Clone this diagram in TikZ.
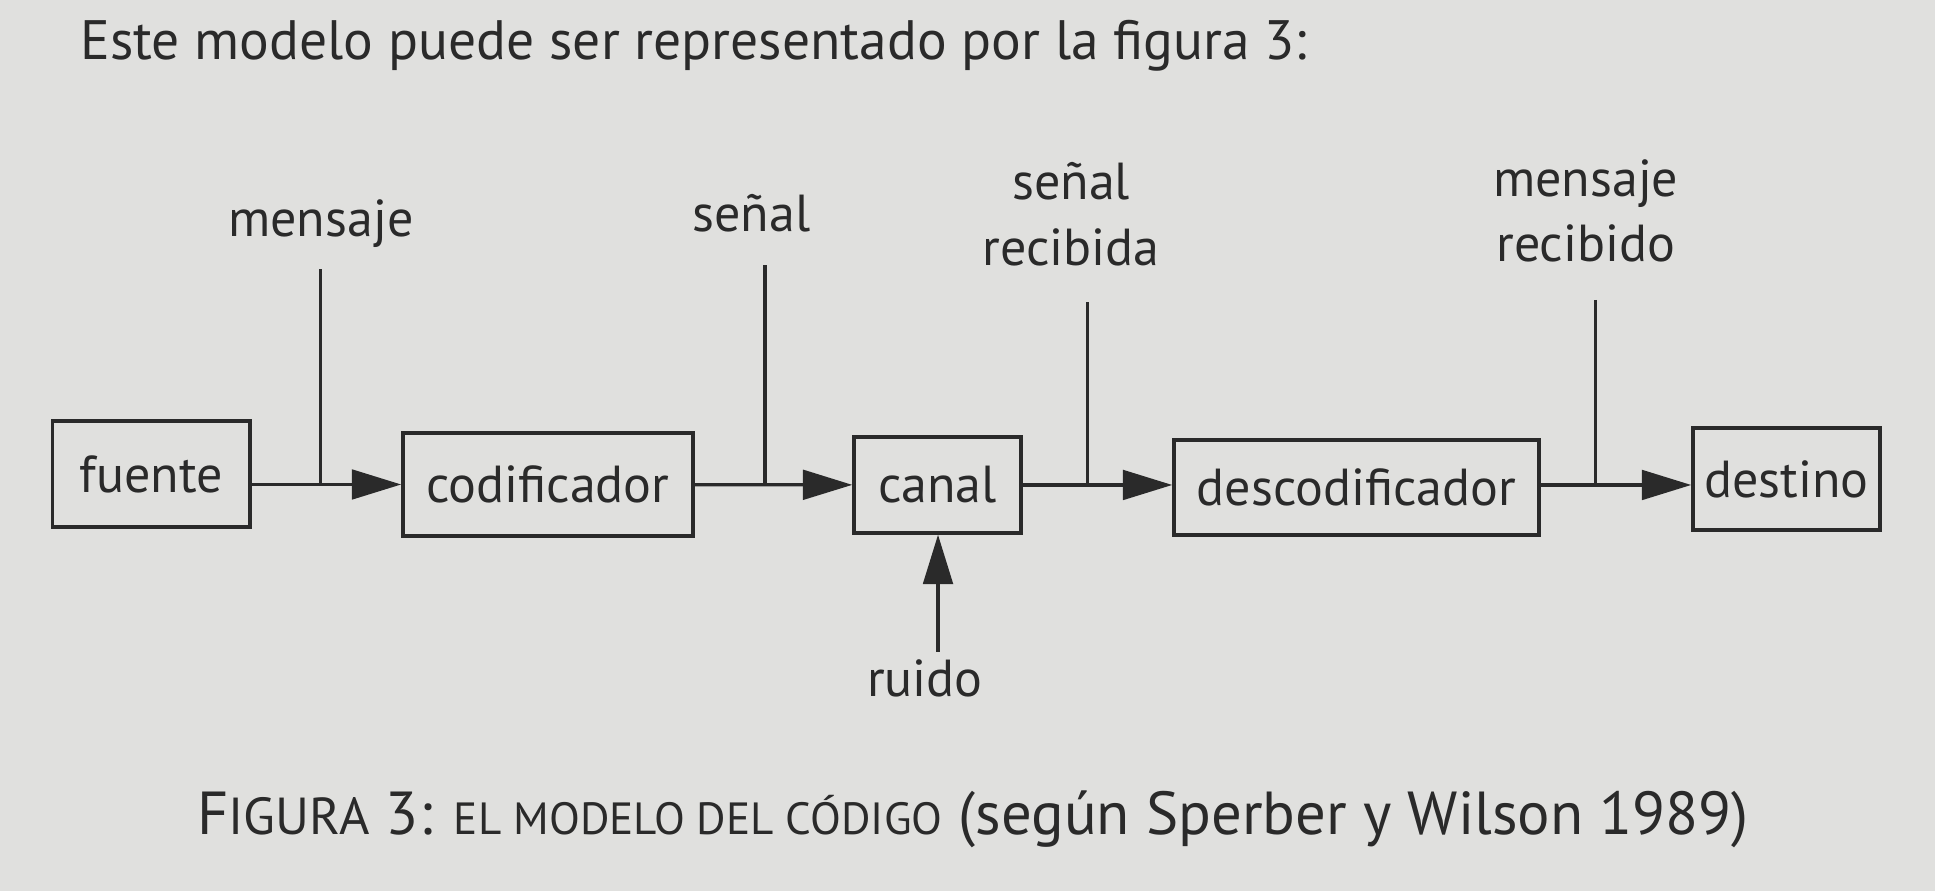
\documentclass[tikz,border=0pt]{standalone}
\usepackage{fontspec}
\setmainfont{PT Sans}
\usetikzlibrary{arrows.meta,positioning}
\definecolor{paper}{RGB}{224,224,222}
\definecolor{ink}{RGB}{42,42,42}
\newcommand{\CapSC}[1]{{\fontsize{12}{14}\selectfont #1}}
\newcommand{\LowSC}[1]{{\fontsize{10.4}{12}\selectfont #1}}

\begin{document}
\begin{tikzpicture}[
    block/.style={draw=ink, line width=0.8pt, inner sep=0pt, text=ink,
                  font=\fontsize{12}{14}\selectfont},
    lbl/.style={text=ink, font=\fontsize{12}{14}\selectfont, anchor=base},
    flow/.style={draw=ink, line width=0.75pt, -{Triangle[length=0.40cm,width=0.24cm]}},
    tap/.style={draw=ink, line width=0.7pt}
  ]
		\fill[paper] (0,0) rectangle (15.68,7.22);
		\useasboundingbox (0,0) rectangle (15.68,7.22);

		% Define nodes
		\node[text=ink, anchor=base west, font=\fontsize{12.8}{15}\selectfont] (title) at (0.527,6.734)
		  {Este modelo puede ser representado por la figura 3:};

		\node[block, minimum width=1.60cm, minimum height=0.86cm] (fuente) at (1.224,3.379) {fuente};
		\node[block, minimum width=2.35cm, minimum height=0.835cm] (codif) at (4.440,3.294) {codificador};
		\node[block, minimum width=1.353cm, minimum height=0.778cm] (canal) at (7.597,3.290) {canal};
		\node[block, minimum width=2.958cm, minimum height=0.77cm] (descod) at (10.992,3.270) {descodificador};
		\node[block, minimum width=1.515cm, minimum height=0.827cm] (destino) at (14.476,3.339) {destino};

		\node[lbl] (msg) at (2.60,5.30) {mensaje};
		\node[lbl] (sig) at (6.09,5.34) {señal};
		\node[lbl] (sigrec) at (8.68,5.60) {señal};
		\node[lbl] (sigrec2) at (8.68,5.07) {recibida};
		\node[lbl] (msgrec) at (12.85,5.63) {mensaje};
		\node[lbl] (msgrec2) at (12.85,5.10) {recibido};
		\node[lbl] (ruido) at (7.495,1.58) {ruido};

		\coordinate (t1) at (2.60,5.04);
		\coordinate (t2) at (6.199,5.07);
		\coordinate (t3) at (8.816,4.77);
		\coordinate (t4) at (12.93,4.79);
		\coordinate (r1) at (7.601,1.937);

		% Connect the nodes
		\draw[flow] (fuente.east |- codif) -- (codif);
		\draw[flow] (codif) -- (canal);
		\draw[flow] (canal) -- (canal -| descod.west);
		\draw[flow] (descod.east |- canal) -- (canal -| destino.west);
		\draw[flow] (r1) -- (r1 |- canal.south);

		\draw[tap] (t1) -- (t1 |- codif.west);
		\draw[tap] (t2) -- (t2 |- codif.east);
		\draw[tap] (t3) -- (t3 |- canal.east);
		\draw[tap] (t4) -- (t4 |- canal.east);

		% Caption
		\node[text=ink, anchor=base west, font=\fontsize{14}{16}\selectfont] (caption) at (1.475,0.454)
		  {F\CapSC{IGURA} 3: \LowSC{EL MODELO DEL CÓDIGO} (según Sperber y Wilson 1989)};
	\end{tikzpicture}
\end{document}
